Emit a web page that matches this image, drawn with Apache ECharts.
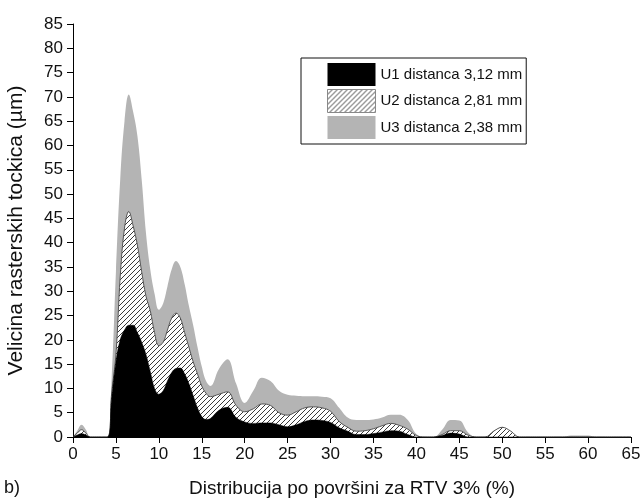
<!DOCTYPE html>
<html>
<head>
<meta charset="utf-8">
<script src="https://cdn.jsdelivr.net/npm/echarts@6/dist/echarts.min.js"></script>
<style>
html,body{margin:0;padding:0;background:#fff;}
#chart{width:642px;height:499px;}
</style>
</head>
<body>
<div id="chart"></div>
<script>
const xs = [0,0.5,1,1.5,2,3,
  4,4.5,5,5.5,6,6.5,7,7.5,8,8.5,9,9.5,10,10.5,11,11.5,12,12.5,13,13.5,14,14.5,15,15.5,16,
  17,18,19,20,21,22,23,24,25,26,27,28,29,30,31,32,33,34,35,36,37,38,39,40,
  41,42,43,44,45,46,47,48,49,50,51,52,53,54,55,56,57,58,59,60,61,62,63,64,65];
const u1 = [0,0.4,0.7,0.4,0,0,
  0,8,15.5,20,22,23,23,21.5,19.5,17,13.5,10,8.8,9.5,11.5,13.3,14.1,14.2,13,11,8.5,6,4.2,3.6,3.8,
  5.5,6.1,4,3.1,2.8,2.9,2.9,2.5,2.1,2.5,3.2,3.5,3.4,3.0,1.9,1.2,0.5,0.5,0.7,1.0,1.3,1.2,0.5,0,
  0,0,0.3,0.8,0.6,0,0,0,0,0,0,0,0,0,0,0,0,0,0,0,0,0,0,0,0];
const u2 = [0,0.4,0.8,0.4,0,0,
  0,1,1.5,13,21,23.4,20.5,18,14.5,12,12.5,11.5,10,10,10.5,11.2,11.4,10.3,8.5,7.5,7,7,6.3,5.4,4.5,
  3.3,3.2,2.5,2.1,3.0,3.9,3.6,2.5,2.4,2.7,2.8,2.7,2.6,2.3,1.3,0.8,0.7,0.8,1.0,1.3,1.5,1.2,1.1,0.3,
  0,0,0.2,0.5,0.7,0.4,0,0,1.2,2,1.2,0,0,0,0,0,0,0,0,0,0,0,0,0,0];
const u3 = [0,0.5,1.0,0.7,0,0,
  0,3,17,20,22,24.1,23.5,22.5,19,13,8.5,8,7.4,8,9,10,10.7,10.5,10,8.5,7.5,5.5,4,2.5,2.2,
  5.2,6.7,4.5,1.8,3.7,5.4,5.0,4.5,4.2,3.3,2.4,2.2,2.3,2.7,2.8,2.0,2.3,2.2,1.9,1.7,1.8,2.2,1.9,0.3,
  0,0,1.0,2.2,2.1,0.6,0,0,0,0,0,0,0,0,0,0,0,0.3,0.3,0.3,0,0,0,0,0];
const seriesNames = ['U1 distanca 3,12 mm','U2 distanca 2,81 mm','U3 distanca 2,38 mm'];
const xTicks = {min:0, max:65, interval:5};
const yTicks = {min:0, max:85, interval:5};

function hatch(){
  const c = document.createElement('canvas');
  c.width = 5; c.height = 5;
  const g = c.getContext('2d');
  g.fillStyle = '#ffffff'; g.fillRect(0,0,5,5);
  g.strokeStyle = '#3a3a3a'; g.lineWidth = 1;
  g.beginPath();
  g.moveTo(-1,6); g.lineTo(6,-1);
  g.moveTo(-6,6); g.lineTo(1,-1);
  g.moveTo(4,6); g.lineTo(11,-1);
  g.stroke();
  return {image:c, repeat:'repeat'};
}
const hatchPat = hatch();
// stacked tops (cumulative), drawn back-to-front
const top1 = u1.slice();
const top2 = u2.map((v,i)=>v + top1[i]);
const top3 = u3.map((v,i)=>v + top2[i]);
const pairs = arr => xs.map((x,i)=>[x, +((arr[i]||0).toFixed(3))]);
const font = 'Liberation Sans, Arial, sans-serif';

const chart = echarts.init(document.getElementById('chart'), null, {renderer:'canvas'});
chart.setOption({
  backgroundColor:'#ffffff',
  animation:false,
  grid:{left:73, right:11, top:24, bottom:62, containLabel:false, outerBoundsMode:'none'},
  legend:{
    orient:'vertical', left:301, top:58,
    padding:[5,4,5,26],
    itemWidth:48, itemHeight:23, itemGap:3, icon:'rect',
    borderColor:'#111', borderWidth:1, backgroundColor:'#fff',
    textStyle:{fontFamily:font, fontSize:15, color:'#111'},
    data:[
      {name:seriesNames[0], itemStyle:{color:'#000000'}},
      {name:seriesNames[1], itemStyle:{color:hatchPat, borderColor:'#888', borderWidth:1}},
      {name:seriesNames[2], itemStyle:{color:'#b4b4b4'}}
    ]
  },
  xAxis:{
    type:'value', min:xTicks.min, max:xTicks.max, interval:xTicks.interval,
    name:'Distribucija po površini za RTV 3% (%)', nameLocation:'middle', nameGap:42,
    nameTextStyle:{fontFamily:font, fontSize:19, color:'#111'},
    axisLine:{show:true, lineStyle:{color:'#000', width:1}},
    axisTick:{show:true, inside:false, length:6, lineStyle:{color:'#000'}},
    axisLabel:{fontFamily:font, fontSize:17, color:'#111', margin:9},
    splitLine:{show:false}
  },
  yAxis:{
    type:'value', min:yTicks.min, max:yTicks.max, interval:yTicks.interval,
    name:'Velicina rasterskih tockica (µm)', nameLocation:'middle', nameGap:46,
    nameTextStyle:{fontFamily:font, fontSize:21, color:'#111'},
    axisLine:{show:true, lineStyle:{color:'#000', width:1}},
    axisTick:{show:true, inside:false, length:6, lineStyle:{color:'#000'}},
    axisLabel:{fontFamily:font, fontSize:17, color:'#111', margin:10},
    splitLine:{show:false}
  },
  graphic:[{type:'text', left:4, top:479, style:{text:'b)', fontFamily:font, fontSize:18, fill:'#111'}}],
  series:[
    {name:seriesNames[0], type:'line', smooth:0.4, showSymbol:false, symbol:'none',
     data:pairs(top1), lineStyle:{width:0.5, color:'#000'}, itemStyle:{color:'#000'},
     areaStyle:{color:'#000000', opacity:1}, z:5},
    {name:seriesNames[1], type:'line', smooth:0.4, showSymbol:false, symbol:'none',
     data:pairs(top2), lineStyle:{width:1, color:'#555'}, itemStyle:{color:'#555'},
     areaStyle:{color:hatchPat, opacity:1}, z:4},
    {name:seriesNames[2], type:'line', smooth:0.4, showSymbol:false, symbol:'none',
     data:pairs(top3), lineStyle:{width:0}, itemStyle:{color:'#b4b4b4'},
     areaStyle:{color:'#b4b4b4', opacity:1}, z:3}
  ]
});
</script>
</body>
</html>
